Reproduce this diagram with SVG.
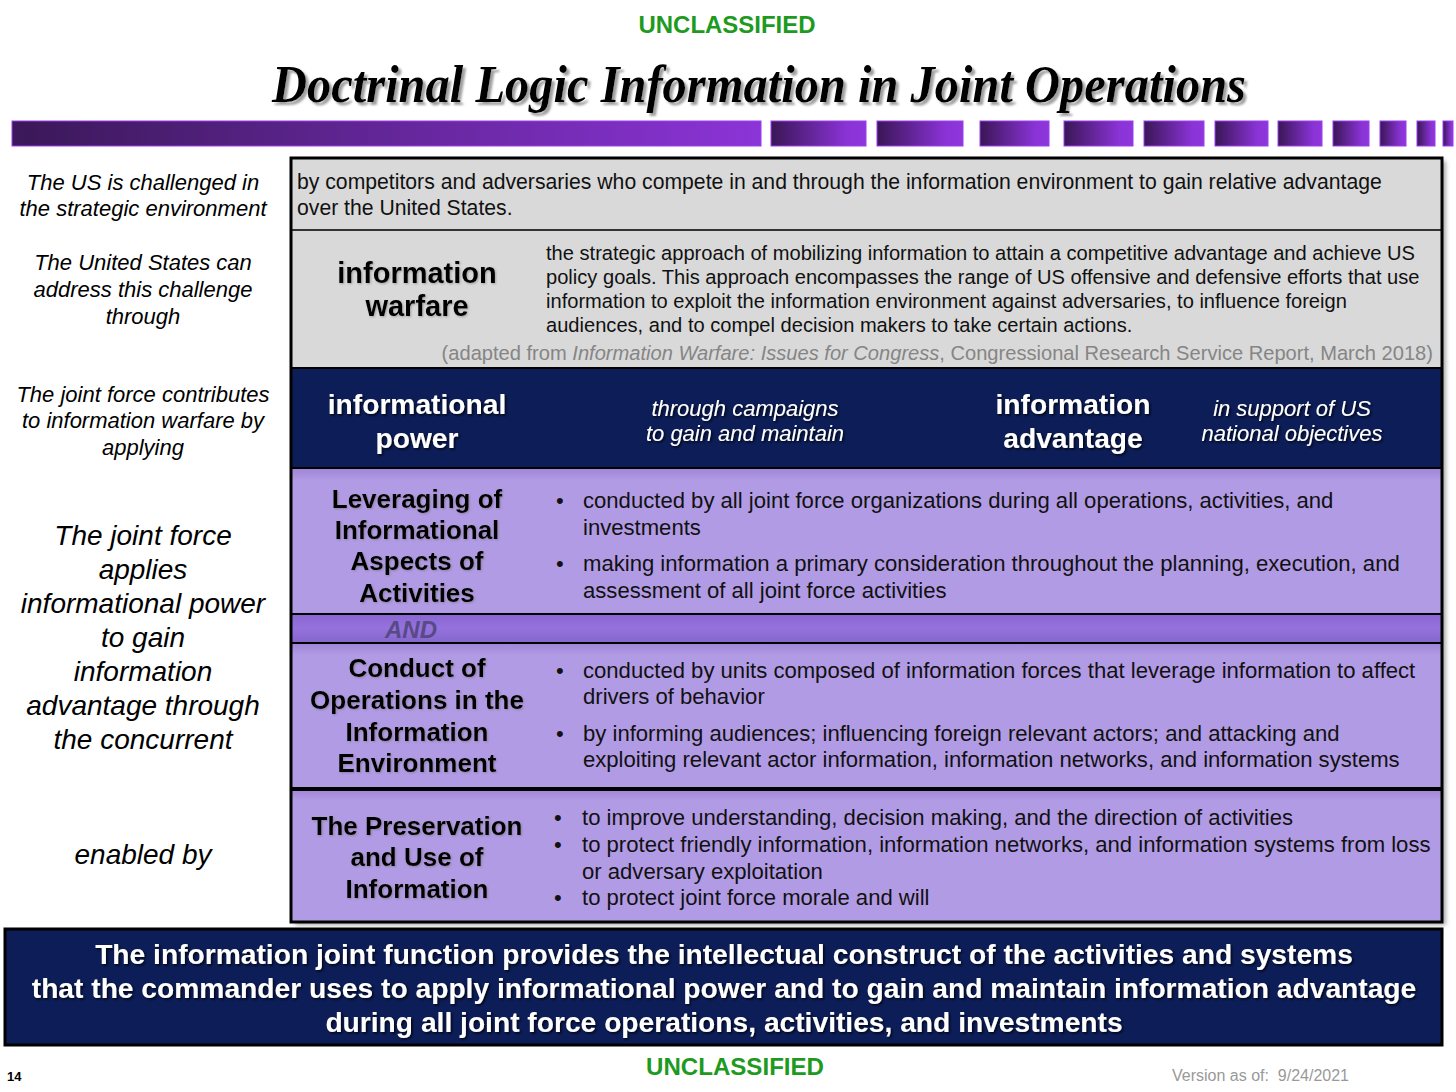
<svg xmlns="http://www.w3.org/2000/svg" width="1456" height="1092" viewBox="0 0 1456 1092">
<defs>
<linearGradient id="gMain" x1="0" y1="0" x2="1" y2="0">
<stop offset="0" stop-color="#3a1858"/><stop offset="1" stop-color="#8c34d8"/>
</linearGradient>
<linearGradient id="gSeg" x1="0" y1="0" x2="1" y2="0">
<stop offset="0" stop-color="#3a1656"/><stop offset="0.8" stop-color="#8a33d6"/><stop offset="1" stop-color="#8e36dc"/>
</linearGradient>
<linearGradient id="gLav" x1="0" y1="0" x2="0" y2="1">
<stop offset="0" stop-color="#9f86d8"/><stop offset="0.08" stop-color="#b29be5"/><stop offset="1" stop-color="#b29be5"/>
</linearGradient>
<linearGradient id="gAnd" x1="0" y1="0" x2="0" y2="1">
<stop offset="0" stop-color="#8a66d4"/><stop offset="0.5" stop-color="#9572dc"/><stop offset="1" stop-color="#8466cc"/>
</linearGradient>
<filter id="shW" x="-5%" y="-20%" width="110%" height="140%">
<feDropShadow dx="1.5" dy="1.5" stdDeviation="0.8" flood-color="#000" flood-opacity="0.8"/>
</filter>
<filter id="shT" x="-5%" y="-20%" width="110%" height="140%">
<feDropShadow dx="3" dy="3" stdDeviation="1.2" flood-color="#888" flood-opacity="0.8"/>
</filter>
<filter id="shL" x="-5%" y="-20%" width="110%" height="140%">
<feDropShadow dx="1" dy="1" stdDeviation="0.8" flood-color="#666" flood-opacity="0.5"/>
</filter>
<filter id="shBox" x="-2%" y="-5%" width="104%" height="115%">
<feDropShadow dx="4" dy="3" stdDeviation="2" flood-color="#555" flood-opacity="0.5"/>
</filter>
</defs>
<style>
.sans{font-family:"Liberation Sans",Arial,sans-serif}
.lbl{font-family:"Liberation Sans",Arial,sans-serif;font-style:italic;font-size:22px;fill:#000;text-anchor:middle}
.big{font-family:"Liberation Sans",Arial,sans-serif;font-style:italic;font-size:28px;fill:#000;text-anchor:middle}
.body{font-family:"Liberation Sans",Arial,sans-serif;font-size:22.1px;fill:#111}
.def{font-family:"Liberation Sans",Arial,sans-serif;font-size:20.1px;fill:#111}
.cite{font-family:"Liberation Sans",Arial,sans-serif;font-size:20.1px;fill:#858585;text-anchor:end}
.head{font-family:"Liberation Sans",Arial,sans-serif;font-weight:bold;font-size:26px;fill:#000;text-anchor:middle}
.head30{font-family:"Liberation Sans",Arial,sans-serif;font-weight:bold;font-size:29px;fill:#000;text-anchor:middle}
.wh{font-family:"Liberation Sans",Arial,sans-serif;font-weight:bold;font-size:28.2px;fill:#fff;text-anchor:middle}
.whi{font-family:"Liberation Sans",Arial,sans-serif;font-style:italic;font-size:22px;fill:#fff;text-anchor:middle}
.unc{font-family:"Liberation Sans",Arial,sans-serif;font-weight:bold;font-size:24px;fill:#1e9a1e;text-anchor:middle}
.seg{fill:url(#gSeg);stroke:#9b3cf0;stroke-width:1}
</style>
<rect width="1456" height="1092" fill="#fff"/>

<g id="header">
<text class="unc" x="727" y="33" textLength="177" lengthAdjust="spacingAndGlyphs">UNCLASSIFIED</text>
<text x="759" y="102" text-anchor="middle" font-family="'Liberation Serif','Times New Roman',serif" font-weight="bold" font-style="italic" font-size="52" fill="#000" filter="url(#shT)" textLength="974" lengthAdjust="spacingAndGlyphs">Doctrinal Logic Information in Joint Operations</text>
</g>

<g id="title-bar">
<rect x="12" y="121" width="749" height="25" fill="url(#gMain)" stroke="#9b3cf0" stroke-width="1"/>
<rect class="seg" x="771" y="121" width="95" height="25"/>
<rect class="seg" x="877" y="121" width="86" height="25"/>
<rect class="seg" x="980" y="121" width="69" height="25"/>
<rect class="seg" x="1064" y="121" width="69" height="25"/>
<rect class="seg" x="1144" y="121" width="60" height="25"/>
<rect class="seg" x="1215" y="121" width="53" height="25"/>
<rect class="seg" x="1278" y="121" width="44" height="25"/>
<rect class="seg" x="1333" y="121" width="36" height="25"/>
<rect class="seg" x="1380" y="121" width="26" height="25"/>
<rect class="seg" x="1417" y="121" width="18" height="25"/>
<rect class="seg" x="1443" y="121" width="10" height="25"/>
</g>

<g id="left-labels">
<text class="lbl" x="143" y="190">The US is challenged in</text>
<text class="lbl" x="143" y="216">the strategic environment</text>
<text class="lbl" x="143" y="270">The United States can</text>
<text class="lbl" x="143" y="297">address this challenge</text>
<text class="lbl" x="143" y="324">through</text>
<text class="lbl" x="143" y="402">The joint force contributes</text>
<text class="lbl" x="143" y="428">to information warfare by</text>
<text class="lbl" x="143" y="455">applying</text>
<text class="big" x="143" y="545">The joint force</text>
<text class="big" x="143" y="579">applies</text>
<text class="big" x="143" y="613">informational power</text>
<text class="big" x="143" y="647">to gain</text>
<text class="big" x="143" y="681">information</text>
<text class="big" x="143" y="715">advantage through</text>
<text class="big" x="143" y="749">the concurrent</text>
<text class="big" x="143" y="864">enabled by</text>
</g>

<g id="main-box">
<rect x="291" y="158" width="1151" height="764" fill="#b29be5" filter="url(#shBox)"/>
</g>

<g id="row-challenge">
<rect x="291" y="158" width="1151" height="72" fill="#d9d9d9"/>
<text class="sans" x="297" y="189" font-size="21.2" fill="#111">by competitors and adversaries who compete in and through the information environment to gain relative advantage</text>
<text class="sans" x="297" y="215" font-size="21.2" fill="#111">over the United States.</text>
</g>

<g id="row-information-warfare">
<rect x="291" y="230" width="1151" height="138" fill="#d9d9d9"/>
<line x1="291" y1="230" x2="1442" y2="230" stroke="#333" stroke-width="2"/>
<text class="head30" x="417" y="283" filter="url(#shL)">information</text>
<text class="head30" x="417" y="316" filter="url(#shL)">warfare</text>
<text class="def" x="546" y="260">the strategic approach of mobilizing information to attain a competitive advantage and achieve US</text>
<text class="def" x="546" y="284">policy goals. This approach encompasses the range of US offensive and defensive efforts that use</text>
<text class="def" x="546" y="308">information to exploit the information environment against adversaries, to influence foreign</text>
<text class="def" x="546" y="332">audiences, and to compel decision makers to take certain actions.</text>
<text class="cite" x="1433" y="360">(adapted from <tspan font-style="italic">Information Warfare: Issues for Congress</tspan>, Congressional Research Service Report, March 2018)</text>
</g>

<g id="row-informational-power">
<rect x="291" y="368" width="1151" height="100" fill="#0c1d58" stroke="#000" stroke-width="2"/>
<text class="wh" x="417" y="414" filter="url(#shW)">informational</text>
<text class="wh" x="417" y="448" filter="url(#shW)">power</text>
<text class="whi" x="745" y="416" filter="url(#shW)">through campaigns</text>
<text class="whi" x="745" y="441" filter="url(#shW)">to gain and maintain</text>
<text class="wh" x="1073" y="414" filter="url(#shW)">information</text>
<text class="wh" x="1073" y="448" filter="url(#shW)">advantage</text>
<text class="whi" x="1292" y="416" filter="url(#shW)">in support of US</text>
<text class="whi" x="1292" y="441" filter="url(#shW)">national objectives</text>
</g>

<g id="row-leveraging">
<rect x="291" y="469" width="1151" height="144" fill="url(#gLav)"/>
<text class="head" x="417" y="508" filter="url(#shL)">Leveraging of</text>
<text class="head" x="417" y="539" filter="url(#shL)">Informational</text>
<text class="head" x="417" y="570" filter="url(#shL)">Aspects of</text>
<text class="head" x="417" y="602" filter="url(#shL)">Activities</text>
<text class="body" x="556" y="508">•</text>
<text class="body" x="583" y="508">conducted by all joint force organizations during all operations, activities, and</text>
<text class="body" x="583" y="535">investments</text>
<text class="body" x="556" y="571">•</text>
<text class="body" x="583" y="571">making information a primary consideration throughout the planning, execution, and</text>
<text class="body" x="583" y="598">assessment of all joint force activities</text>
</g>

<g id="and-band">
<rect x="291" y="614" width="1151" height="29" fill="url(#gAnd)" stroke="#000" stroke-width="2"/>
<text class="sans" x="411" y="638" text-anchor="middle" font-weight="bold" font-style="italic" font-size="24" fill="#574a86">AND</text>
</g>

<g id="row-conduct">
<rect x="291" y="644" width="1151" height="145" fill="url(#gLav)"/>
<text class="head" x="417" y="677" filter="url(#shL)">Conduct of</text>
<text class="head" x="417" y="709" filter="url(#shL)">Operations in the</text>
<text class="head" x="417" y="741" filter="url(#shL)">Information</text>
<text class="head" x="417" y="772" filter="url(#shL)">Environment</text>
<text class="body" x="556" y="678">•</text>
<text class="body" x="583" y="678">conducted by units composed of information forces that leverage information to affect</text>
<text class="body" x="583" y="704">drivers of behavior</text>
<text class="body" x="556" y="741">•</text>
<text class="body" x="583" y="741">by informing audiences; influencing foreign relevant actors; and attacking and</text>
<text class="body" x="583" y="767">exploiting relevant actor information, information networks, and information systems</text>
</g>

<g id="row-preservation">
<rect x="291" y="790" width="1151" height="132" fill="url(#gLav)"/>
<line x1="291" y1="789" x2="1442" y2="789" stroke="#000" stroke-width="4"/>
<text class="head" x="417" y="835" filter="url(#shL)">The Preservation</text>
<text class="head" x="417" y="866" filter="url(#shL)">and Use of</text>
<text class="head" x="417" y="898" filter="url(#shL)">Information</text>
<text class="body" x="554" y="825">•</text>
<text class="body" x="582" y="825">to improve understanding, decision making, and the direction of activities</text>
<text class="body" x="554" y="852">•</text>
<text class="body" x="582" y="852">to protect friendly information, information networks, and information systems from loss</text>
<text class="body" x="582" y="879">or adversary exploitation</text>
<text class="body" x="554" y="905">•</text>
<text class="body" x="582" y="905">to protect joint force morale and will</text>
</g>

<g id="main-box-border">
<line x1="291" y1="468" x2="1442" y2="468" stroke="#000" stroke-width="2"/>
<rect x="291" y="158" width="1151" height="764" fill="none" stroke="#000" stroke-width="3"/>
</g>

<g id="summary-box">
<rect x="5" y="929" width="1437" height="116" fill="#0c1d58" stroke="#000" stroke-width="3"/>
<text class="wh" x="724" y="964" filter="url(#shW)">The information joint function provides the intellectual construct of the activities and systems</text>
<text class="wh" x="724" y="998" filter="url(#shW)">that the commander uses to apply informational power and to gain and maintain information advantage</text>
<text class="wh" x="724" y="1032" filter="url(#shW)">during all joint force operations, activities, and investments</text>
</g>

<g id="footer">
<text class="unc" x="735" y="1075" textLength="178" lengthAdjust="spacingAndGlyphs">UNCLASSIFIED</text>
<text class="sans" x="7" y="1081" font-weight="bold" font-size="13" fill="#000">14</text>
<text class="sans" x="1172" y="1081" font-size="16" fill="#999">Version as of:&#160; 9/24/2021</text>
</g>
</svg>
